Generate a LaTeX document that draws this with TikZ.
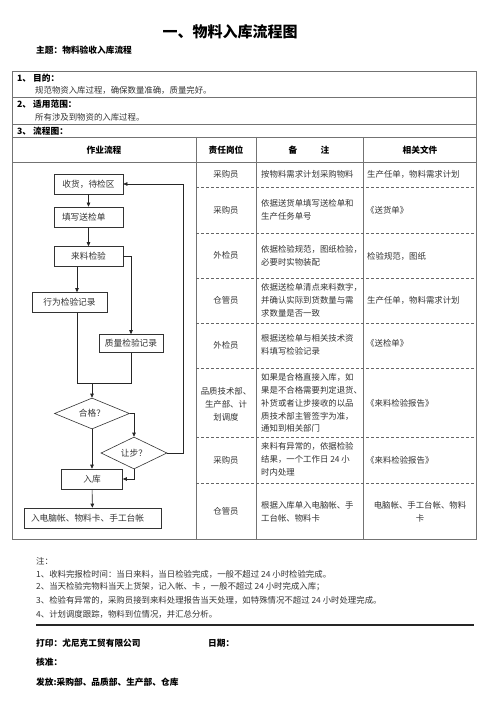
\documentclass[tikz,border=0pt]{standalone}
\usepackage{fontspec}
\setmainfont{Noto Sans CJK SC}
\usepackage{tikz}
\usetikzlibrary{positioning, arrows.meta, shapes.geometric}

\begin{document}
\begin{tikzpicture}[x=1pt, y=-1pt,
    txt/.style={text=black!80, inner sep=0pt, font=\fontsize{8.4}{12.8}\selectfont},
    txtbold/.style={text=black, inner sep=0pt, font=\fontsize{8.7}{12}\selectfont\bfseries},
    tableline/.style={black!55, line width=0.6pt},
    rowdash/.style={black!60, line width=0.5pt, dash pattern=on 3pt off 2pt},
    flowbox/.style={draw=black!80, line width=0.6pt, minimum height=20pt, inner sep=2pt, text=black!80, font=\fontsize{8.7}{11}\selectfont},
    flowdiam/.style={diamond, draw=black!80, line width=0.6pt, aspect=2.4, inner sep=0pt, text=black!80, font=\fontsize{8.7}{11}\selectfont},
    flowarrow/.style={black!85, line width=0.6pt, -{Triangle[length=4pt, width=3.5pt]}},
    flowline/.style={black!85, line width=0.6pt}]
    \useasboundingbox (0,0) rectangle (500,708);
    \fill[white] (0,0) rectangle (500,708);

    % heading
    \node[txtbold, font=\fontsize{15}{18}\selectfont\bfseries] (title) at (230,32) {一、物料入库流程图};
    \node[txtbold, anchor=west] (topic) at (36,50) {主题：物料验收入库流程};

    % table frame
    \draw[tableline] (12,71) rectangle (476,539);
    \foreach \y in {97,124,137,162}
        \draw[tableline] (12,\y) -- (476,\y);
    \foreach \x in {196,256,363}
        \draw[tableline] (\x,137) -- (\x,539);
    \foreach \y in {187,233,278,323,368,437,483}
        \draw[rowdash] (196,\y) -- (476,\y);

    % upper rows
    \node[txtbold, anchor=west] (aimhead) at (17,78) {1、 目的：};
    \node[txt, anchor=west] (aimtext) at (35,90.5) {规范物资入库过程，确保数量准确，质量完好。};
    \node[txtbold, anchor=west] (scopehead) at (17,104) {2、 适用范围：};
    \node[txt, anchor=west] (scopetext) at (35,117) {所有涉及到物资的入库过程。};
    \node[txtbold, anchor=west] (charthead) at (17,131) {3、 流程图：};

    % column heads
    \node[txtbold] (hflow) at (104,150) {作业流程};
    \node[txtbold] (hrole) at (226,150) {责任岗位};
    \node[txtbold] (hnote) at (309,150) {备\hspace{2.7em}注};
    \node[txtbold] (hdoc) at (420,150) {相关文件};

    % roles
    \node[txt] (role1) at (226,174.5) {采购员};
    \node[txt] (role2) at (226,210) {采购员};
    \node[txt] (role3) at (226,255.5) {外检员};
    \node[txt] (role4) at (226,300.5) {仓管员};
    \node[txt] (role5) at (226,345.5) {外检员};
    \node[txt, align=center] (role6) at (226,404) {品质技术部、\\生产部、计\\划调度};
    \node[txt] (role7) at (226,460) {采购员};
    \node[txt] (role8) at (226,511) {仓管员};

    % remarks
    \node[txt, anchor=west] (note1) at (261,174.5) {按物料需求计划采购物料};
    \node[txt, anchor=west, align=left] (note2) at (261,210) {依据送货单填写送检单和\\生产任务单号};
    \node[txt, anchor=west, align=left] (note3) at (261,255.5) {依据检验规范，图纸检验，\\必要时实物装配};
    \node[txt, anchor=west, align=left] (note4) at (261,300.5) {依据送检单清点来料数字，\\并确认实际到货数量与需\\求数量是否一致};
    \node[txt, anchor=west, align=left] (note5) at (261,345) {根据送检单与相关技术资\\料填写检验记录};
    \node[txt, anchor=west, align=left] (note6) at (261,403) {如果是合格直接入库，如\\果是不合格需要判定退货、\\补货或者让步接收的以品\\质技术部主管签字为准，\\通知到相关部门};
    \node[txt, anchor=west, align=left] (note7) at (261,459) {来料有异常的，依据检验\\结果，一个工作日 24 小\\时内处理};
    \node[txt, anchor=west, align=left] (note8) at (261,511.5) {根据入库单入电脑帐、手\\工台帐、物料卡};

    % related documents
    \node[txt, anchor=west] (doc1) at (367,174.5) {生产任单，物料需求计划};
    \node[txt, anchor=west] (doc2) at (366,210) {《送货单》};
    \node[txt, anchor=west] (doc3) at (367,256) {检验规范，图纸};
    \node[txt, anchor=west] (doc4) at (367,300.5) {生产任单，物料需求计划};
    \node[txt, anchor=west] (doc5) at (366,343) {《送检单》};
    \node[txt, anchor=west] (doc6) at (366,403) {《来料检验报告》};
    \node[txt, anchor=west] (doc7) at (366,460) {《来料检验报告》};
    \node[txt, align=center] (doc8) at (420,511.5) {电脑帐、手工台帐、物料\\卡};

    % flow chart
    \node[flowbox, minimum width=69pt] (recv) at (88.5,184) {收货，待检区};
    \node[flowbox, minimum width=69pt, text width=63pt, align=left] (fill) at (88.5,217) {\hspace{5pt}填写送检单};
    \node[flowbox, minimum width=69pt] (inspect) at (88.5,256.5) {来料检验};
    \node[flowbox, minimum width=75pt] (brec) at (69.5,302.5) {行为检验记录};
    \node[flowbox, minimum width=64pt, minimum height=18pt] (qrec) at (131,343.5) {质量检验记录};
    \node[flowdiam, minimum width=75pt, minimum height=31pt] (pass) at (92,413.5) {合格？};
    \node[flowdiam, minimum width=66pt, minimum height=32pt] (concede) at (134,453) {让步？};
    \node[flowbox, minimum width=61pt] (store) at (92,479) {入库};
    \node[flowbox, minimum width=137pt, text width=129pt, align=left] (ledger) at (92.5,518) {\hspace{3pt}入电脑帐、物料卡、手工台帐};
    \coordinate (merge) at (77,383);

    \draw[flowarrow] (recv) -- (fill);
    \draw[flowarrow] (fill) -- (inspect);
    \draw[flowarrow] (inspect.east) -| (qrec.north);
    \draw[flowarrow] (inspect.south -| merge) -- (brec.north -| merge);
    \draw[flowline] (brec.south -| merge) -- (merge) -| (qrec.south);
    \draw[flowarrow] (merge -| pass.north) -- (pass.north);
    \draw[flowarrow] (pass.south) -- (store.north);
    \draw[flowarrow] (pass.east) -| (concede.north);
    \draw[flowarrow] (concede.east) -- ++(16,0) |- (recv.east);
    \draw[flowarrow] (concede.south) |- (store.east);
    \draw[flowarrow] (store) -- (ledger);

    % notes
    \node[txt, anchor=west] (notehead) at (36,561) {注：};
    \node[txt, anchor=west] (rule1) at (36,574) {1、收料完报检时间：当日来料，当日检验完成，一般不超过 24 小时检验完成。};
    \node[txt, anchor=west] (rule2) at (36,587) {2、当天检验完物料当天上货架，记入帐、卡 ，一般不超过 24 小时完成入库；};
    \node[txt, anchor=west] (rule3) at (36,600.5) {3、检验有异常的，采购员接到来料处理报告当天处理，如特殊情况不超过 24 小时处理完成。};
    \node[txt, anchor=west] (rule4) at (36,614) {4、计划调度跟踪，物料到位情况，并汇总分析。};
    \draw[black!85, line width=1.4pt] (36,625) -- (474,625);

    % sign-off
    \node[txtbold, anchor=west] (printby) at (36,643) {打印：尤尼克工贸有限公司};
    \node[txtbold, anchor=west] (date) at (208,643) {日期：};
    \node[txtbold, anchor=west] (approve) at (36,662) {核准：};
    \node[txtbold, anchor=west] (issue) at (36,682) {发放:采购部、品质部、生产部、仓库};
\end{tikzpicture}
\end{document}
